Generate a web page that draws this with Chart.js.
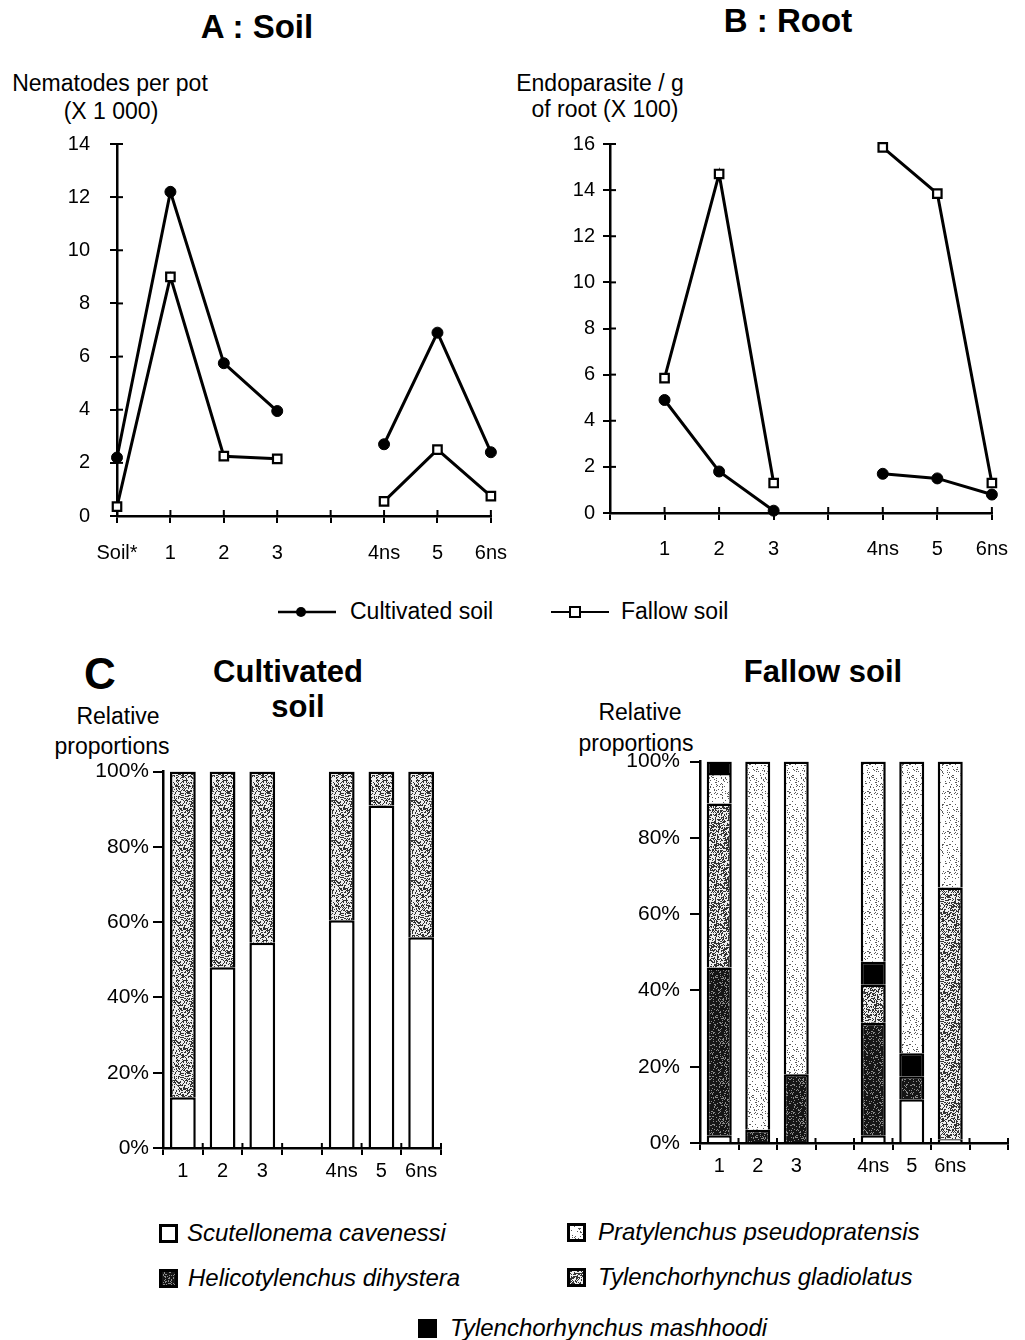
<!DOCTYPE html>
<html>
<head>
<meta charset="utf-8">
<script src="https://cdn.jsdelivr.net/npm/chart.js@4"></script>
<style>
  body { margin: 0; background: #fff; }
  #page { position: relative; width: 1025px; height: 1340px; font-family: "Liberation Sans", Arial, sans-serif; color: #000; }
  #page canvas.chart { position: absolute; }
  .t { position: absolute; white-space: nowrap; text-align: center; width: 400px; line-height: 1; }
  .b { font-weight: bold; }
  .key { position: absolute; }
  .lg { position: absolute; white-space: nowrap; font-style: italic; font-size: 24px; line-height: 1; }
</style>
</head>
<body>
<div id="page">
  <div class="t b" style="left:57px;top:10px;font-size:33px">A : Soil</div>
  <div class="t b" style="left:588px;top:4px;font-size:33px">B : Root</div>
  <div class="t" style="left:-90px;top:72px;font-size:23px">Nematodes per pot</div>
  <div class="t" style="left:-89px;top:100px;font-size:23px">(X 1 000)</div>
  <div class="t" style="left:400px;top:72px;font-size:23px">Endoparasite / g</div>
  <div class="t" style="left:405px;top:98px;font-size:23px">of root (X 100)</div>

  <svg style="position:absolute;left:276px;top:602px" width="62" height="20">
    <line x1="2" y1="10" x2="60" y2="10" stroke="#000" stroke-width="2.5"/>
    <circle cx="25" cy="10" r="5" fill="#000"/>
  </svg>
  <div class="t" style="font-size:23px;width:300px;text-align:left;left:350px;top:600px">Cultivated soil</div>
  <svg style="position:absolute;left:549px;top:602px" width="62" height="20">
    <line x1="2" y1="10" x2="60" y2="10" stroke="#000" stroke-width="2"/>
    <rect x="21" y="5" width="10" height="10" fill="#fff" stroke="#000" stroke-width="2"/>
  </svg>
  <div class="t" style="font-size:23px;width:200px;text-align:left;left:621px;top:600px">Fallow soil</div>

  <div class="t b" style="left:-100px;top:652px;font-size:44px">C</div>
  <div class="t b" style="left:88px;top:656px;font-size:31px">Cultivated</div>
  <div class="t b" style="left:98px;top:691px;font-size:31px">soil</div>
  <div class="t b" style="left:623px;top:656px;font-size:31px">Fallow soil</div>
  <div class="t" style="left:-82px;top:705px;font-size:23px">Relative</div>
  <div class="t" style="left:-88px;top:735px;font-size:23px">proportions</div>
  <div class="t" style="left:440px;top:701px;font-size:23px">Relative</div>
  <div class="t" style="left:436px;top:732px;font-size:23px">proportions</div>

  <canvas class="chart" id="soilChart" width="525" height="468" style="left:0;top:112px"></canvas>
  <canvas class="chart" id="rootChart" width="505" height="456" style="left:520px;top:124px"></canvas>
  <canvas class="chart" id="cultChart" width="420" height="445" style="left:40px;top:755px"></canvas>
  <canvas class="chart" id="fallowChart" width="465" height="461" style="left:560px;top:739px"></canvas>

  <canvas class="key" data-k="scut" width="19" height="19" style="left:159px;top:1224px"></canvas>
  <div class="lg" style="left:187px;top:1221px">Scutellonema cavenessi</div>
  <canvas class="key" data-k="heli" width="19" height="19" style="left:159px;top:1269px"></canvas>
  <div class="lg" style="left:188px;top:1266px">Helicotylenchus dihystera</div>
  <canvas class="key" data-k="prat" width="19" height="19" style="left:567px;top:1223px"></canvas>
  <div class="lg" style="left:598px;top:1220px">Pratylenchus pseudopratensis</div>
  <canvas class="key" data-k="glad" width="19" height="19" style="left:567px;top:1268px"></canvas>
  <div class="lg" style="left:598px;top:1265px">Tylenchorhynchus gladiolatus</div>
  <canvas class="key" data-k="mash" width="19" height="19" style="left:418px;top:1319px"></canvas>
  <div class="lg" style="left:450px;top:1316px">Tylenchorhynchus mashhoodi</div>
</div>

<script>
// ---- data ----
const soilLabels = ["Soil*", "1", "2", "3", "", "4ns", "5", "6ns"];
const soilCultivated = [2.2, 12.2, 5.75, 3.95, null, 2.7, 6.9, 2.4];
const soilFallow = [0.35, 9.0, 2.25, 2.15, null, 0.55, 2.5, 0.75];

const rootLabels = ["", "1", "2", "3", "", "4ns", "5", "6ns"];
const rootCultivated = [null, 4.9, 1.8, 0.1, null, 1.7, 1.5, 0.8];
const rootFallow = [null, 5.85, 14.7, 1.3, null, 15.85, 13.85, 1.3];

const cultLabels = ["1", "2", "3", "", "4ns", "5", "6ns"];
const cultScutellonema = [13.5, 48, 54.5, null, 60.5, 91, 56];
const cultGladiolatus = [86.5, 52, 45.5, null, 39.5, 9, 44];

const fallowLabels = ["1", "2", "3", "", "4ns", "5", "6ns", ""];
const fallowScutellonema = [2, 0, 0, null, 2, 11.5, 1, null];
const fallowHelicotylenchus = [44, 3.5, 18, null, 29.5, 6, 0, null];
const fallowGladiolatus = [43, 0, 0, null, 10, 0, 66, null];
const fallowMashhoodi = [0, 0, 0, null, 6, 6, 0, null];
const fallowPratylenchus = [8, 96.5, 82, null, 52.5, 76.5, 33, null];
const fallowMashhoodiTop = [3, 0, 0, null, 0, 0, 0, null];

// ---- speckle fills ----
function speckle(bg, dot, density, seed) {
  const c = document.createElement("canvas");
  c.width = c.height = 40;
  const g = c.getContext("2d");
  g.fillStyle = bg;
  g.fillRect(0, 0, 40, 40);
  g.fillStyle = dot;
  for (let y = 0; y < 40; y++) {
    for (let x = 0; x < 40; x++) {
      const h = Math.abs(Math.sin((x + seed) * 12.9898 + y * 78.233) * 43758.5453) % 1;
      if (h < density) g.fillRect(x, y, 1, 1);
    }
  }
  return g.createPattern(c, "repeat");
}
const fills = {
  scut: "#ffffff",
  heli: speckle("#151515", "#8a8a8a", 0.2, 3),
  prat: speckle("#ffffff", "#5a5a5a", 0.1, 7),
  glad: speckle("#eeeeee", "#333333", 0.42, 11),
  mash: "#000000",
};

document.querySelectorAll("canvas.key").forEach(function (k) {
  const g = k.getContext("2d");
  g.fillStyle = fills[k.dataset.k];
  g.fillRect(0, 0, 19, 19);
  g.strokeStyle = "#000";
  g.lineWidth = 3;
  g.strokeRect(1.5, 1.5, 16, 16);
});

// ---- common ----
Chart.defaults.font.family = '"Liberation Sans", Arial, sans-serif';
Chart.defaults.color = "#000";
Chart.defaults.animation = false;

// ticks that also reach into the plot, like the hand-drawn axes
const crossTicks = {
  id: "crossTicks",
  afterDraw(chart, args, opts) {
    const ctx = chart.ctx;
    ctx.save();
    ctx.strokeStyle = "#000";
    ctx.lineWidth = 2;
    if (opts.x) {
      const xs = chart.scales.x;
      const n = xs.ticks.length;
      const step = xs.getPixelForTick(1) - xs.getPixelForTick(0);
      const count = opts.xOffset ? n + 1 : n;
      for (let i = 0; i < count; i++) {
        const px = opts.xOffset ? xs.getPixelForTick(0) + (i - 0.5) * step : xs.getPixelForTick(i);
        ctx.beginPath();
        ctx.moveTo(px, xs.top - opts.x);
        ctx.lineTo(px, xs.top);
        ctx.stroke();
      }
    }
    if (opts.y) {
      const ys = chart.scales.y;
      ys.ticks.forEach(function (t, i) {
        const py = ys.getPixelForTick(i);
        ctx.beginPath();
        ctx.moveTo(ys.right, py);
        ctx.lineTo(ys.right + opts.y, py);
        ctx.stroke();
      });
    }
    ctx.restore();
  },
};

function lineSet(label, data, square) {
  return {
    label: label,
    data: data,
    borderColor: "#000",
    borderWidth: 3,
    pointStyle: square ? "rect" : "circle",
    pointRadius: square ? 6 : 5.5,
    pointBackgroundColor: square ? "#fff" : "#000",
    pointBorderColor: "#000",
    pointBorderWidth: square ? 2.2 : 1,
    spanGaps: false,
    clip: false,
  };
}

function lineOptions(yMax, yWidth, xHeight, right, tickPad, xPad) {
  return {
    responsive: false,
    layout: { padding: { top: 13, right: right, left: 0, bottom: 0 } },
    plugins: { legend: { display: false }, tooltip: { enabled: false }, crossTicks: { x: 6, y: 6 } },
    scales: {
      x: {
        offset: false,
        border: { color: "#000", width: 2.5 },
        grid: { drawOnChartArea: false, color: "#000", lineWidth: 2, tickLength: 7 },
        ticks: { font: { size: 20 }, padding: xPad, autoSkip: false, maxRotation: 0 },
        afterFit(s) { s.height = xHeight; },
      },
      y: {
        min: 0,
        max: yMax,
        border: { color: "#000", width: 2.5 },
        grid: { drawOnChartArea: false, color: "#000", lineWidth: 2, tickLength: 7 },
        ticks: { stepSize: 2, font: { size: 20 }, padding: tickPad },
        afterFit(s) { s.width = yWidth; },
      },
    },
  };
}

new Chart(document.getElementById("soilChart"), {
  type: "line",
  data: {
    labels: soilLabels,
    datasets: [lineSet("Cultivated soil", soilCultivated, false), lineSet("Fallow soil", soilFallow, true)],
  },
  options: lineOptions(14, 117, 64, 24, 20, 18),
  plugins: [crossTicks],
});

new Chart(document.getElementById("rootChart"), {
  type: "line",
  data: {
    labels: rootLabels,
    datasets: [lineSet("Cultivated soil", rootCultivated, false), lineSet("Fallow soil", rootFallow, true)],
  },
  options: lineOptions(16, 90, 67, 27, 8, 17),
  plugins: [crossTicks],
});

function barSet(label, data, fill) {
  return {
    label: label,
    data: data,
    backgroundColor: fill,
    borderColor: "#000",
    borderWidth: 2.5,
    borderSkipped: "bottom",
    barPercentage: 1,
    categoryPercentage: 0.65,
  };
}

function barOptions(yWidth, xHeight, top, right, tickPad) {
  return {
    responsive: false,
    layout: { padding: { top: top, right: right, left: 0, bottom: 0 } },
    plugins: { legend: { display: false }, tooltip: { enabled: false }, crossTicks: { x: 5, xOffset: true } },
    scales: {
      x: {
        stacked: true,
        border: { color: "#000", width: 2.5 },
        grid: { drawOnChartArea: false, color: "#000", lineWidth: 2, tickLength: 7 },
        ticks: { font: { size: 20 }, padding: 4, autoSkip: false, maxRotation: 0 },
        afterFit(s) { s.height = xHeight; },
      },
      y: {
        stacked: true,
        min: 0,
        max: 100,
        border: { color: "#000", width: 2.5 },
        grid: { drawOnChartArea: false, color: "#000", lineWidth: 2, tickLength: 10 },
        ticks: { stepSize: 20, font: { size: 21 }, padding: tickPad, callback: function (v) { return v + "%"; } },
        afterFit(s) { s.width = yWidth; },
      },
    },
  };
}

new Chart(document.getElementById("cultChart"), {
  type: "bar",
  data: {
    labels: cultLabels,
    datasets: [
      barSet("Scutellonema cavenessi", cultScutellonema, fills.scut),
      barSet("Tylenchorhynchus gladiolatus", cultGladiolatus, fills.glad),
    ],
  },
  options: barOptions(123, 52, 12, 19, 4),
  plugins: [crossTicks],
});

new Chart(document.getElementById("fallowChart"), {
  type: "bar",
  data: {
    labels: fallowLabels,
    datasets: [
      barSet("Scutellonema cavenessi", fallowScutellonema, fills.scut),
      barSet("Helicotylenchus dihystera", fallowHelicotylenchus, fills.heli),
      barSet("Tylenchorhynchus gladiolatus", fallowGladiolatus, fills.glad),
      barSet("Tylenchorhynchus mashhoodi", fallowMashhoodi, fills.mash),
      barSet("Pratylenchus pseudopratensis", fallowPratylenchus, fills.prat),
      barSet("Tylenchorhynchus mashhoodi", fallowMashhoodiTop, fills.mash),
    ],
  },
  options: barOptions(140, 57, 11, 17, 10),
  plugins: [crossTicks],
});
</script>
</body>
</html>
